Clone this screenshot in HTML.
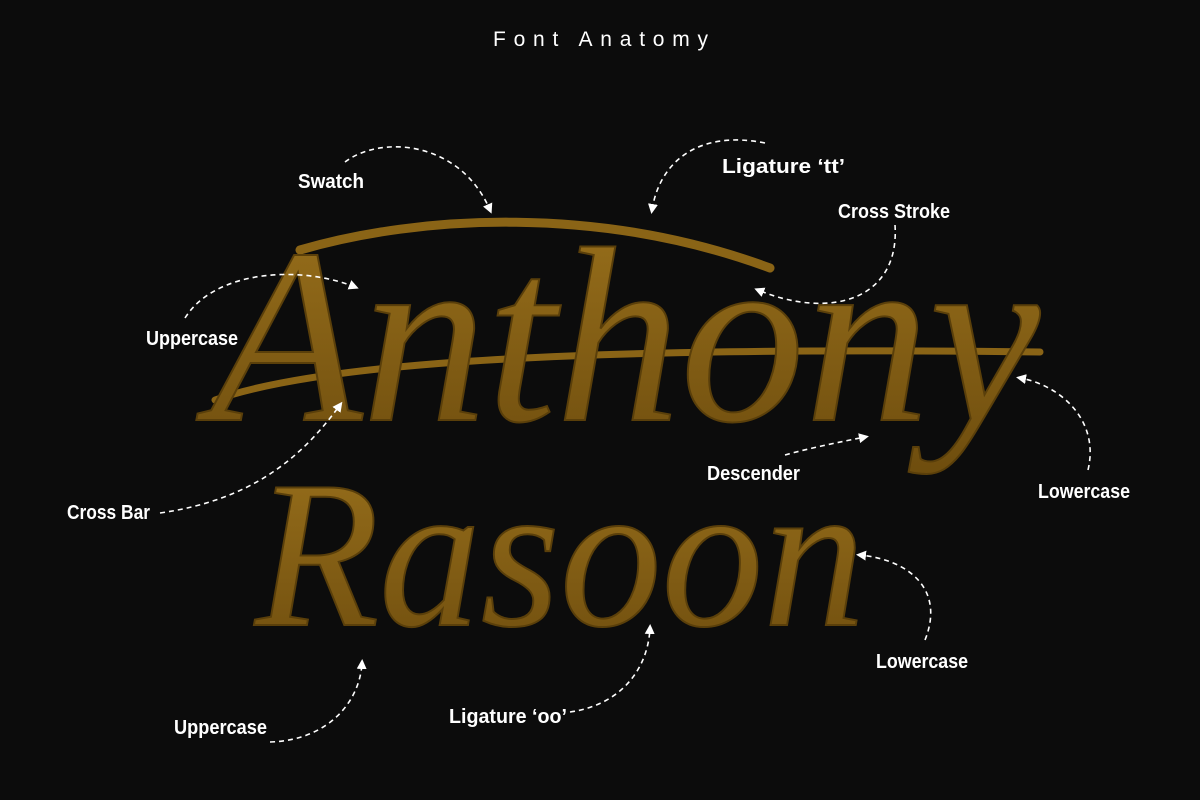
<!DOCTYPE html>
<html><head><meta charset="utf-8"><style>
html,body{margin:0;padding:0;background:#0c0c0c;}
svg{display:block}
.l{font-family:"Liberation Sans Narrow","Liberation Sans",sans-serif;font-weight:bold;font-size:20px;fill:#fff}
.a{fill:none;stroke:#fff;stroke-width:1.6;stroke-dasharray:5 4}
</style></head><body>
<svg width="1200" height="800" viewBox="0 0 1200 800" xmlns="http://www.w3.org/2000/svg">
<defs>
<marker id="m" markerWidth="10" markerHeight="10" refX="6" refY="5" orient="auto" markerUnits="userSpaceOnUse">
<path d="M0,0 L10,5 L0,10 Z" fill="#fff"/></marker>
<linearGradient id="g" x1="0" y1="0" x2="0" y2="1"><stop offset="0" stop-color="#9a711c"/><stop offset="1" stop-color="#6e4d0e"/></linearGradient>
</defs>
<rect width="1200" height="800" fill="#0c0c0c"/>
<text x="493" y="46" textLength="215" lengthAdjust="spacing" style="font-family:'Liberation Sans',sans-serif;font-size:21px;fill:#fff">Font Anatomy</text>

<path d="M300,250 C420,215 600,205 770,268" fill="none" stroke="#8a6416" stroke-width="9" stroke-linecap="round"/>
<path d="M215,400 C300,370 500,345 1040,352" fill="none" stroke="#8a6416" stroke-width="7" stroke-linecap="round"/>
<text x="210" y="420" textLength="830" lengthAdjust="spacingAndGlyphs" style="font-family:'Liberation Serif',serif;font-style:italic;font-size:250px;fill:url(#g);stroke:#5a3f0a;stroke-width:2">Anthony</text>
<text x="255" y="625" textLength="610" lengthAdjust="spacingAndGlyphs" style="font-family:'Liberation Serif',serif;font-style:italic;font-size:210px;fill:url(#g);stroke:#5a3f0a;stroke-width:2">Rasoon</text>

<path class="a" d="M345,162 C380,135 460,140 490,210" marker-end="url(#m)"/>
<path class="a" d="M765,143 C700,130 660,160 652,210" marker-end="url(#m)"/>
<path class="a" d="M895,225 C900,300 830,320 758,290" marker-end="url(#m)"/>
<path class="a" d="M185,318 C215,270 300,265 355,287" marker-end="url(#m)"/>
<path class="a" d="M160,513 C250,500 300,460 340,405" marker-end="url(#m)"/>
<path class="a" d="M785,455 C810,448 840,442 865,437" marker-end="url(#m)"/>
<path class="a" d="M1088,470 C1100,420 1060,385 1020,378" marker-end="url(#m)"/>
<path class="a" d="M925,640 C945,590 910,560 860,555" marker-end="url(#m)"/>
<path class="a" d="M270,742 C330,740 360,700 362,663" marker-end="url(#m)"/>
<path class="a" d="M570,712 C620,705 648,670 650,628" marker-end="url(#m)"/>

<g lengthAdjust="spacingAndGlyphs">
<text class="l" x="298" y="188" textLength="66" lengthAdjust="spacingAndGlyphs">Swatch</text>
<text class="l" x="722" y="173" textLength="123" lengthAdjust="spacingAndGlyphs">Ligature ‘tt’</text>
<text class="l" x="838" y="218" textLength="112" lengthAdjust="spacingAndGlyphs">Cross Stroke</text>
<text class="l" x="146" y="345" textLength="92" lengthAdjust="spacingAndGlyphs">Uppercase</text>
<text class="l" x="67" y="519" textLength="83" lengthAdjust="spacingAndGlyphs">Cross Bar</text>
<text class="l" x="707" y="480" textLength="93" lengthAdjust="spacingAndGlyphs">Descender</text>
<text class="l" x="1038" y="498" textLength="92" lengthAdjust="spacingAndGlyphs">Lowercase</text>
<text class="l" x="876" y="668" textLength="92" lengthAdjust="spacingAndGlyphs">Lowercase</text>
<text class="l" x="174" y="734" textLength="93" lengthAdjust="spacingAndGlyphs">Uppercase</text>
<text class="l" x="449" y="723" textLength="118" lengthAdjust="spacingAndGlyphs">Ligature ‘oo’</text>
</g>
</svg>
</body></html>
